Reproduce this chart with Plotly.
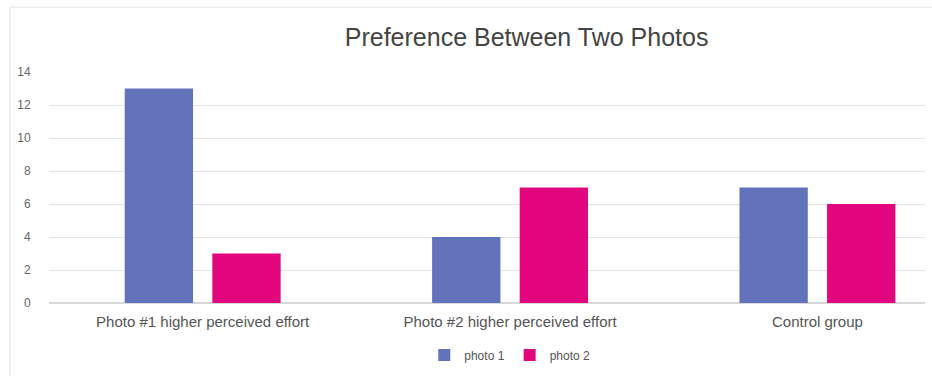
import plotly.graph_objects as go

categories = ["Photo #1 higher perceived effort", "Photo #2 higher perceived effort", "Control group"]
photo1 = [13, 4, 7]
photo2 = [3, 7, 6]
series_names = ["photo 1", "photo 2"]
colors = ["#6273bc", "#e2077f"]
y_ticks = [0, 2, 4, 6, 8, 10, 12, 14]

fig = go.Figure()
for name, vals, col in zip(series_names, [photo1, photo2], colors):
    fig.add_trace(go.Bar(x=categories, y=vals, name=name, marker=dict(color=col, line=dict(width=0))))

font_family = "Liberation Sans, Arial, sans-serif"
fig.update_layout(
    width=932, height=376,
    margin=dict(l=49, r=7, t=72, b=73),
    paper_bgcolor="white", plot_bgcolor="white",
    barmode="group", bargap=0.43, bargroupgap=0.22,
    title=dict(text="Preference Between Two Photos", x=0.565, xref="container", xanchor="center",
               y=0.9, yref="container", yanchor="middle",
               font=dict(family=font_family, size=25, color="#444")),
    legend=dict(orientation="h", x=0.526, xanchor="center", y=-0.225, yanchor="middle",
                font=dict(family=font_family, size=12, color="#555"),
                itemwidth=30, traceorder="normal"),
    font=dict(family=font_family, color="#555"),
    xaxis=dict(range=[-0.5, 2.35], showgrid=False, showline=False, zeroline=False,
               ticks="outside", ticklen=5, tickcolor="rgba(0,0,0,0)",
               tickfont=dict(size=15, color="#555")),
    yaxis=dict(range=[0, 14], tickvals=y_ticks, showgrid=True, gridcolor="#e4e4e4", gridwidth=1,
               zeroline=True, zerolinecolor="#d8d8d8", showline=False,
               ticks="outside", ticklen=15, tickcolor="rgba(0,0,0,0)",
               tickfont=dict(size=12, color="#666")),
    shapes=[dict(type="rect", xref="paper", yref="paper", x0=-0.0445, x1=1.1, y0=-0.33, y1=1.28,
                 line=dict(color="#eeeeee", width=1.5), fillcolor="rgba(0,0,0,0)", layer="below")],
)

fig.write_html("out.html")
